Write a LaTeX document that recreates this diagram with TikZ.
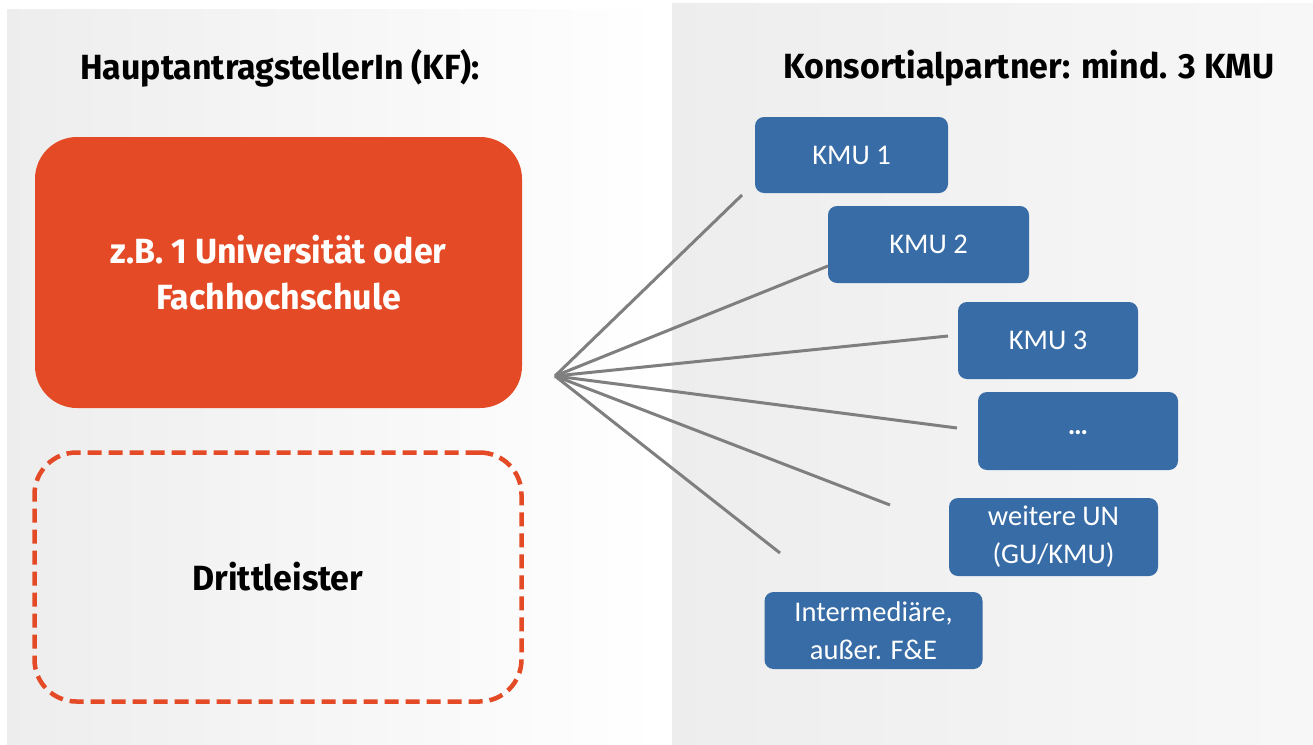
\documentclass[tikz,border=0pt]{standalone}
\usepackage{fontspec}
\setmainfont{Carlito}
\newfontfamily\headfont[FakeStretch=0.97]{Fira Sans}
\usetikzlibrary{calc}
\definecolor{orangered}{HTML}{E34A25}
\definecolor{boxblue}{HTML}{386CA6}
\definecolor{linegray}{HTML}{7F7F7F}
\tikzset{
  heading/.style={font=\headfont\bfseries\fontsize{35}{40}\selectfont, text=black, inner sep=0pt},
  bigtext/.style={font=\headfont\bfseries\fontsize{35}{46}\selectfont, align=center, inner sep=0pt},
  bluebox/.style={fill=boxblue, draw=none, rounded corners=9pt, text=white, align=center,
    font=\fontsize{28.5}{38}\selectfont, inner sep=0pt},
  spoke/.style={draw=linegray, line width=3pt}
}
\begin{document}
\begin{tikzpicture}[x=1pt,y=-1pt]
\useasboundingbox (0,0) rectangle (1313,744);
\fill[white] (0,0) rectangle (1313,744);
% panels
\shade[left color=black!7, right color=white] (7,9) rectangle (662,744);
\shade[left color=black!7, right color=black!3] (672,3) rectangle (1313,744);
% headings
\node[heading] (h1) at (280,68) {HauptantragstellerIn (KF):};
\node[heading] (h2) at (1029,68) {Konsortialpartner: mind. 3 KMU};
% left boxes
\node[fill=orangered, rounded corners=42pt, minimum width=487pt, minimum height=271pt, inner sep=0pt] (uni) at (278.5,272.5) {};
\node[bigtext, text=white] (unit) at (uni.center) {z.B. 1 Universität oder\\Fachhochschule};
\node[draw=orangered, line width=4.5pt, dash pattern=on 14pt off 7pt, rounded corners=42pt, minimum width=487pt, minimum height=249pt, inner sep=0pt] (dritt) at (278,577) {};
\node[bigtext, text=black] (dritt-t) at (dritt.center) {Drittleister};
% blue boxes
\node[bluebox, minimum width=193pt, minimum height=76pt] (k1) at (851.5,155) {KMU 1};
\node[bluebox, minimum width=201pt, minimum height=77pt] (k2) at (928.5,244.5) {KMU 2};
\node[bluebox, minimum width=180pt, minimum height=77pt] (k3) at (1048,340.5) {KMU 3};
\node[bluebox, minimum width=200pt, minimum height=78pt] (k4) at (1078,431) {\raisebox{-8pt}{\bfseries …}};
\node[bluebox, minimum width=209pt, minimum height=78pt] (k5) at (1053.5,537) {weitere UN\\(GU/KMU)};
\node[bluebox, minimum width=218pt, minimum height=77pt] (k6) at (873.5,630.5) {Intermediäre,\\außer. F\&E};
% spokes
\coordinate (hub) at (555,376);
\coordinate (e1) at (742,195);
\coordinate (e2) at (828,266);
\coordinate (e3) at (948,336);
\coordinate (e4) at (957,428);
\coordinate (e5) at (890,505);
\coordinate (e6) at (780,553);
\foreach \e in {e1,e2,e3,e4,e5,e6} \draw[spoke] (hub) -- (\e);
\end{tikzpicture}
\end{document}
